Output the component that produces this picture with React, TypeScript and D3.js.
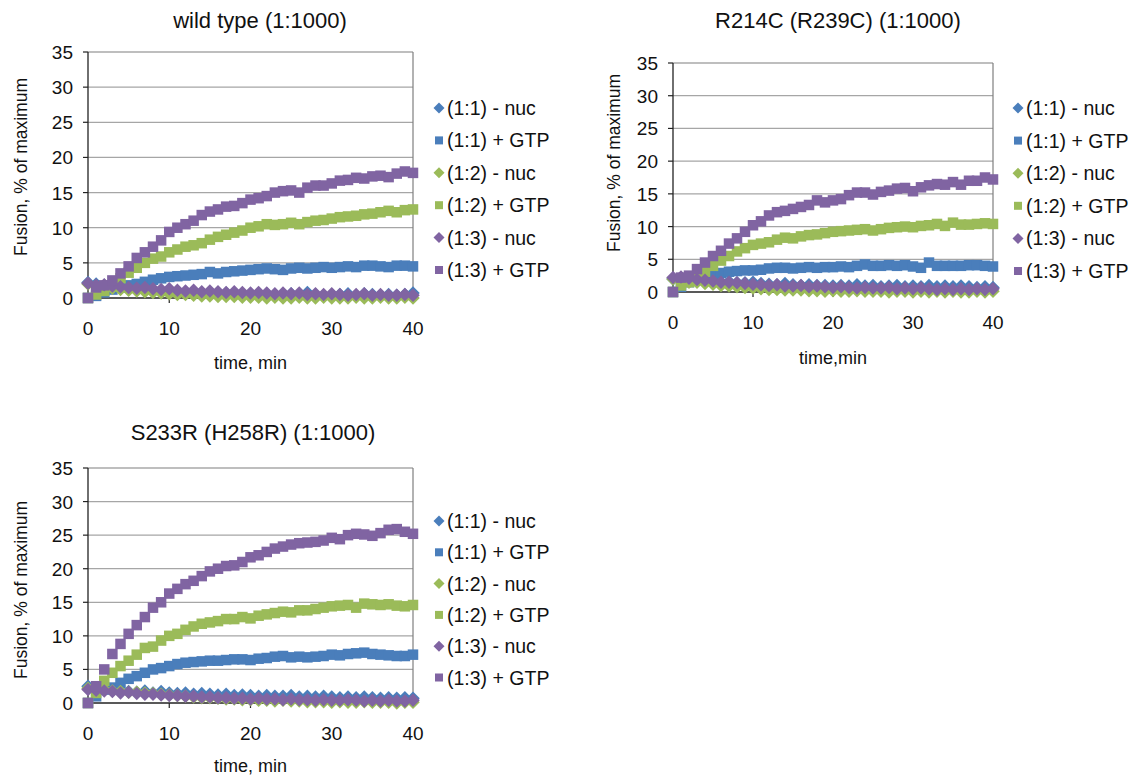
import React from "react";
import * as d3 from "d3";

// ---------- data ----------
const times = d3.range(0, 41); // minutes 0..40
const seriesNames = ["(1:1) - nuc", "(1:1) + GTP", "(1:2) - nuc", "(1:2) + GTP", "(1:3) - nuc", "(1:3) + GTP"];
const seriesColors = ["#4A7EBB", "#4A7EBB", "#9BBB59", "#9BBB59", "#8064A2", "#8064A2"];
const seriesShapes = ["diamond", "square", "diamond", "square", "diamond", "square"];
const yTicks = [0, 5, 10, 15, 20, 25, 30, 35];
const xTicks = [0, 10, 20, 30, 40];

// wild type
const wt11nuc = [2.2, 2.0, 1.8, 1.6, 1.5, 1.4, 1.3, 1.2, 1.1, 1.0, 1.0, 0.9, 0.9, 0.8, 0.8, 0.8, 0.7, 0.7, 0.7, 0.6, 0.6, 0.6, 0.6, 0.5, 0.5, 0.6, 0.5, 0.8, 0.5, 0.4, 0.5, 0.5, 0.6, 0.4, 0.6, 0.5, 0.4, 0.5, 0.4, 0.5, 0.7];
const wt11gtp = [0, 0.3, 0.8, 1.2, 1.5, 1.8, 2.0, 2.3, 2.6, 2.8, 3.0, 3.1, 3.2, 3.3, 3.4, 3.7, 3.5, 3.7, 3.8, 3.9, 4.0, 4.1, 4.2, 4.1, 4.0, 4.2, 4.3, 4.2, 4.3, 4.4, 4.3, 4.4, 4.5, 4.4, 4.6, 4.6, 4.5, 4.4, 4.6, 4.6, 4.5];
const wt12nuc = [2.0, 1.7, 1.5, 1.4, 1.2, 1.1, 1.0, 0.9, 0.8, 0.7, 0.6, 0.5, 0.5, 0.4, 0.3, 0.3, 0.2, 0.2, 0.2, 0.1, 0.1, 0.1, 0.0, 0.1, 0.0, 0.0, 0.1, 0.0, 0.0, 0.1, 0.0, 0.0, 0.0, 0.1, 0.0, 0.0, 0.1, 0.0, 0.0, 0.1, 0.0];
const wt12gtp = [0, 0.5, 1.0, 1.8, 2.8, 3.6, 4.3, 5.0, 5.6, 5.9, 6.5, 6.9, 7.3, 7.5, 7.8, 8.3, 8.7, 9.0, 9.3, 9.6, 10.0, 10.2, 10.5, 10.4, 10.5, 10.7, 10.5, 10.8, 11.0, 11.1, 11.3, 11.5, 11.6, 11.7, 11.9, 12.0, 12.2, 12.4, 12.2, 12.5, 12.6];
const wt13nuc = [2.1, 1.8, 1.9, 1.7, 1.6, 1.5, 1.4, 1.5, 1.3, 1.2, 1.3, 1.1, 1.0, 1.1, 0.9, 1.0, 0.9, 0.8, 0.9, 0.8, 0.7, 0.8, 0.7, 0.6, 0.7, 0.6, 0.7, 0.5, 0.6, 0.5, 0.6, 0.5, 0.4, 0.5, 0.6, 0.4, 0.5, 0.4, 0.4, 0.5, 0.4];
const wt13gtp = [0, 1.5, 1.8, 2.5, 3.5, 4.5, 5.7, 6.5, 7.3, 8.2, 9.4, 10.0, 10.5, 11.0, 11.8, 12.3, 12.6, 13.0, 13.1, 13.5, 14.0, 14.2, 14.5, 15.0, 15.2, 15.3, 15.0, 15.7, 16.0, 16.0, 16.3, 16.7, 16.8, 17.1, 17.0, 17.3, 17.4, 17.2, 17.7, 18.0, 17.8];

// R214C
const r11nuc = [2.0, 1.8, 2.0, 1.7, 1.7, 1.6, 1.5, 1.6, 1.4, 1.4, 1.5, 1.3, 1.2, 1.1, 1.3, 1.1, 1.0, 1.1, 1.0, 1.0, 0.9, 1.0, 0.9, 1.1, 0.9, 1.0, 0.8, 0.9, 1.0, 0.8, 0.9, 0.8, 1.0, 0.8, 0.9, 0.8, 0.9, 0.8, 0.7, 0.8, 0.7];
const r11gtp = [0, 0.8, 1.5, 2.0, 2.4, 2.7, 2.9, 3.1, 3.2, 3.3, 3.3, 3.4, 3.6, 3.7, 3.7, 3.6, 3.7, 3.8, 3.7, 3.8, 3.8, 3.9, 3.8, 4.0, 4.2, 4.0, 4.0, 4.1, 4.0, 4.1, 3.9, 3.7, 4.5, 4.0, 4.0, 4.0, 4.0, 4.1, 4.1, 4.0, 3.9];
const r12nuc = [2.0, 1.8, 1.5, 1.5, 1.3, 1.2, 1.0, 0.9, 0.8, 0.7, 0.6, 0.5, 0.4, 0.4, 0.3, 0.3, 0.3, 0.2, 0.2, 0.1, 0.2, 0.1, 0.1, 0.2, 0.1, 0.1, 0.1, 0.0, 0.1, 0.1, 0.0, 0.1, 0.0, 0.1, 0.0, 0.1, 0.0, 0.0, 0.1, 0.0, 0.1];
const r12gtp = [0, 1.0, 1.5, 2.2, 3.1, 4.0, 4.8, 5.5, 6.2, 6.7, 7.2, 7.4, 7.6, 8.0, 8.3, 8.2, 8.5, 8.7, 8.8, 9.0, 9.2, 9.3, 9.4, 9.5, 9.6, 9.4, 9.6, 9.8, 9.9, 10.0, 9.9, 10.1, 10.2, 10.4, 10.1, 10.6, 10.3, 10.3, 10.4, 10.5, 10.4];
const r13nuc = [2.2, 2.3, 2.1, 1.9, 1.8, 1.7, 1.5, 1.5, 1.4, 1.3, 1.2, 1.1, 1.0, 1.1, 0.9, 0.9, 1.0, 0.8, 0.9, 0.8, 0.7, 0.8, 0.7, 0.6, 0.7, 0.6, 0.6, 0.7, 0.5, 0.6, 0.5, 0.6, 0.5, 0.4, 0.5, 0.4, 0.5, 0.4, 0.5, 0.4, 0.5];
const r13gtp = [0, 2.2, 2.5, 3.5, 4.5, 5.5, 6.3, 7.4, 8.2, 9.2, 10.2, 10.8, 11.7, 12.2, 12.4, 12.7, 13.0, 13.3, 14.0, 13.7, 14.0, 14.2, 14.8, 15.2, 15.2, 14.9, 15.3, 15.5, 15.8, 15.9, 15.4, 16.0, 16.3, 16.5, 16.4, 16.8, 16.4, 17.0, 17.0, 17.5, 17.2];

// S233R
const s11nuc = [2.5, 2.0, 2.0, 1.9, 1.8, 1.7, 1.6, 1.8, 1.5, 1.7, 1.5, 1.4, 1.5, 1.3, 1.4, 1.3, 1.2, 1.3, 1.1, 1.2, 1.1, 1.0, 1.1, 1.0, 1.0, 1.1, 0.9, 1.0, 0.9, 1.0, 0.9, 0.8, 0.9, 0.8, 0.9, 0.8, 0.7, 0.8, 0.7, 0.8, 0.7];
const s11gtp = [0, 1.0, 2.0, 2.3, 3.0, 3.6, 4.0, 4.5, 5.0, 5.2, 5.5, 5.8, 6.0, 6.1, 6.2, 6.3, 6.3, 6.4, 6.5, 6.5, 6.4, 6.6, 6.7, 6.9, 7.0, 6.8, 6.9, 6.8, 6.9, 7.0, 7.2, 7.1, 7.3, 7.4, 7.5, 7.3, 7.2, 7.1, 7.0, 7.0, 7.2];
const s12nuc = [2.2, 2.0, 2.0, 1.8, 1.7, 1.6, 1.6, 1.5, 1.4, 1.3, 1.2, 1.1, 1.0, 0.9, 0.8, 0.8, 0.7, 0.6, 0.6, 0.5, 0.5, 0.4, 0.4, 0.3, 0.4, 0.3, 0.3, 0.2, 0.2, 0.2, 0.1, 0.2, 0.1, 0.1, 0.2, 0.1, 0.1, 0.1, 0.0, 0.1, 0.1];
const s12gtp = [0, 1.5, 3.3, 4.5, 5.5, 6.3, 7.2, 8.2, 8.4, 9.3, 10.0, 10.3, 10.9, 11.4, 11.8, 12.0, 12.2, 12.5, 12.5, 12.8, 12.6, 13.0, 13.2, 13.4, 13.6, 13.5, 13.8, 13.8, 14.0, 14.2, 14.4, 14.5, 14.6, 14.2, 14.8, 14.7, 14.6, 14.7, 14.5, 14.4, 14.6];
const s13nuc = [2.0, 1.9, 1.8, 1.7, 1.5, 1.6, 1.4, 1.3, 1.3, 1.2, 1.1, 1.1, 1.0, 1.0, 0.9, 0.9, 0.8, 0.8, 0.7, 0.7, 0.6, 0.7, 0.6, 0.6, 0.5, 0.6, 0.5, 0.5, 0.4, 0.5, 0.4, 0.4, 0.5, 0.4, 0.3, 0.4, 0.3, 0.4, 0.3, 0.3, 0.4];
const s13gtp = [0, 2.5, 5.0, 7.3, 8.8, 10.3, 11.6, 12.8, 14.2, 15.0, 16.3, 17.0, 17.7, 18.2, 18.9, 19.6, 20.0, 20.4, 20.5, 21.0, 21.7, 22.0, 22.5, 23.0, 23.3, 23.6, 23.8, 23.9, 24.0, 24.2, 24.6, 24.4, 25.0, 25.2, 25.1, 24.9, 25.3, 25.8, 25.9, 25.5, 25.2];

const FONT = "'Liberation Sans', Arial, Helvetica, sans-serif";

type PanelSpec = {
  title: string;
  xTitle: string;
  series: number[][];
  left: number; right: number; top: number; bottom: number;
  titleX: number; titleY: number;
  xTitleY: number;
  yTitleX: number; yTitleY: number;
  legendX: number; legendY: number; legendStep: number;
};

const panels: PanelSpec[] = [
  {
    title: "wild type (1:1000)", xTitle: "time, min",
    series: [wt11nuc, wt11gtp, wt12nuc, wt12gtp, wt13nuc, wt13gtp],
    left: 88, right: 413, top: 52, bottom: 298,
    titleX: 260, titleY: 28, xTitleY: 369, yTitleX: 27, yTitleY: 167,
    legendX: 439, legendY: 108, legendStep: 32.4,
  },
  {
    title: "R214C (R239C) (1:1000)", xTitle: "time,min",
    series: [r11nuc, r11gtp, r12nuc, r12gtp, r13nuc, r13gtp],
    left: 673, right: 993, top: 63, bottom: 292,
    titleX: 838, titleY: 28, xTitleY: 364, yTitleX: 620, yTitleY: 163,
    legendX: 1018, legendY: 108, legendStep: 32.6,
  },
  {
    title: "S233R (H258R) (1:1000)", xTitle: "time, min",
    series: [s11nuc, s11gtp, s12nuc, s12gtp, s13nuc, s13gtp],
    left: 88, right: 413, top: 468, bottom: 703,
    titleX: 253, titleY: 440, xTitleY: 772, yTitleX: 27, yTitleY: 590,
    legendX: 439, legendY: 521, legendStep: 31.3,
  },
];

function Marker({ shape, x, y, color, size }: { shape: string; x: number; y: number; color: string; size: number }) {
  if (shape === "square") {
    const h = size / 2;
    return <rect x={x - h} y={y - h} width={size} height={size} fill={color} />;
  }
  const h = size / 2 + 1.5;
  return <path d={`M${x},${y - h}L${x + h},${y}L${x},${y + h}L${x - h},${y}Z`} fill={color} />;
}

function Panel({ p }: { p: PanelSpec }) {
  const x = d3.scaleLinear().domain([0, 40]).range([p.left, p.right]);
  const y = d3.scaleLinear().domain([0, 35]).range([p.bottom, p.top]);
  return (
    <g>
      <text x={p.titleX} y={p.titleY} textAnchor="middle" fontSize={22} fontFamily={FONT} fill="#111">{p.title}</text>
      {/* grid */}
      {yTicks.filter((t) => t > 0 && t < 35).map((t) => (
        <line key={"g" + t} x1={p.left} x2={p.right} y1={y(t)} y2={y(t)} stroke="#a6a6a6" strokeWidth={1.2} />
      ))}
      {/* border top/right */}
      <line x1={p.left} x2={p.right} y1={y(35)} y2={y(35)} stroke="#7f7f7f" strokeWidth={1.2} />
      <line x1={p.right} x2={p.right} y1={y(35)} y2={y(0)} stroke="#7f7f7f" strokeWidth={1.2} />
      {/* axes */}
      <line x1={p.left} x2={p.right} y1={y(0)} y2={y(0)} stroke="#222" strokeWidth={1.3} />
      <line x1={p.left} x2={p.left} y1={y(35)} y2={y(0)} stroke="#222" strokeWidth={1.3} />
      {yTicks.map((t) => (
        <g key={"yt" + t}>
          <line x1={p.left - 5} x2={p.left} y1={y(t)} y2={y(t)} stroke="#222" strokeWidth={1.2} />
          <text x={p.left - 15} y={y(t) + 7} textAnchor="end" fontSize={19} fontFamily={FONT} fill="#111">{t}</text>
        </g>
      ))}
      {xTicks.map((t) => (
        <g key={"xt" + t}>
          <line x1={x(t)} x2={x(t)} y1={y(0)} y2={y(0) + 5} stroke="#222" strokeWidth={1.2} />
          <text x={x(t)} y={y(0) + 37} textAnchor="middle" fontSize={19} fontFamily={FONT} fill="#111">{t}</text>
        </g>
      ))}
      <text x={(p.left + p.right) / 2} y={p.xTitleY} textAnchor="middle" fontSize={18} fontFamily={FONT} fill="#111">{p.xTitle}</text>
      <text transform={`translate(${p.yTitleX},${p.yTitleY}) rotate(-90)`} textAnchor="middle" fontSize={17.5} fontFamily={FONT} fill="#111">Fusion, % of maximum</text>
      {/* series */}
      {p.series.map((vals, si) => (
        <g key={"s" + si}>
          {vals.map((v, i) => (
            <Marker key={i} shape={seriesShapes[si]} x={x(times[i])} y={y(v)} color={seriesColors[si]} size={10.5} />
          ))}
        </g>
      ))}
      {/* legend */}
      {seriesNames.map((n, i) => (
        <g key={"l" + i}>
          <Marker shape={seriesShapes[i]} x={p.legendX} y={p.legendY + i * p.legendStep} color={seriesColors[i]} size={8} />
          <text x={p.legendX + 8} y={p.legendY + i * p.legendStep + 7} fontSize={19.5} fontFamily={FONT} fill="#111">{n}</text>
        </g>
      ))}
    </g>
  );
}

export default function App() {
  return (
    <svg width={1136} height={778} style={{ position: "absolute", left: 0, top: 0, background: "#fff" }}>
      <rect width={1136} height={778} fill="#fff" />
      {panels.map((p, i) => (
        <Panel key={i} p={p} />
      ))}
    </svg>
  );
}
